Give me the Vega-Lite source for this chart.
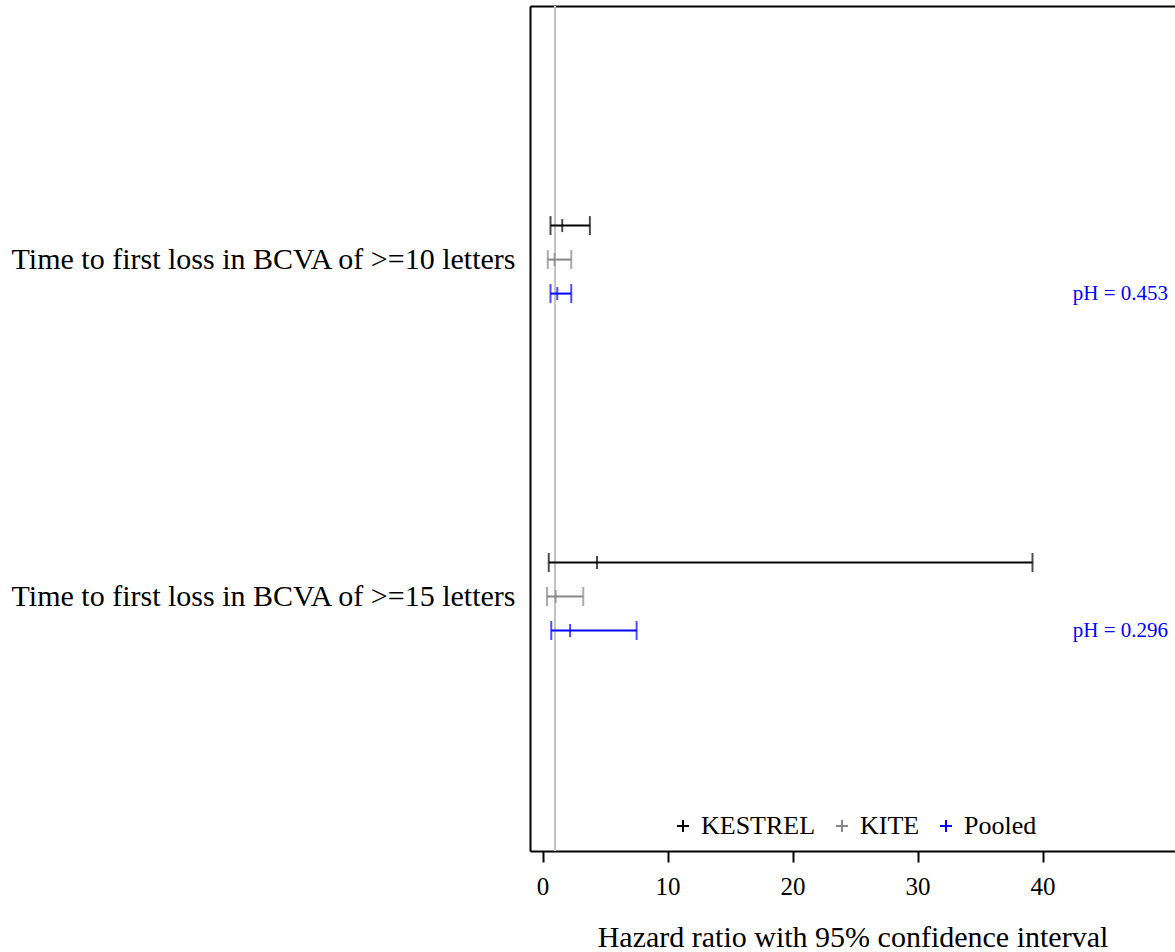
{
  "$schema": "https://vega.github.io/schema/vega-lite/v6.json",
  "width": 645,
  "height": 845,
  "autosize": "none",
  "padding": {"left": 530, "top": 6, "right": 0, "bottom": 101},
  "background": "white",
  "config": {
    "view": {"stroke": null},
    "font": "Liberation Serif",
    "axis": {"labelFont": "Liberation Serif", "titleFont": "Liberation Serif", "grid": false},
    "legend": {"labelFont": "Liberation Serif", "titleFont": "Liberation Serif"}
  },
  "datasets": {
    "hr": [
      {"outcome": "Time to first loss in BCVA of >=10 letters", "study": "KESTREL", "lo": 0.64, "est": 1.58, "hi": 3.79},
      {"outcome": "Time to first loss in BCVA of >=10 letters", "study": "KITE", "lo": 0.42, "est": 0.96, "hi": 2.30},
      {"outcome": "Time to first loss in BCVA of >=10 letters", "study": "Pooled", "lo": 0.64, "est": 1.18, "hi": 2.30},
      {"outcome": "Time to first loss in BCVA of >=15 letters", "study": "KESTREL", "lo": 0.50, "est": 4.36, "hi": 39.2},
      {"outcome": "Time to first loss in BCVA of >=15 letters", "study": "KITE", "lo": 0.36, "est": 1.06, "hi": 3.26},
      {"outcome": "Time to first loss in BCVA of >=15 letters", "study": "Pooled", "lo": 0.70, "est": 2.21, "hi": 7.53}
    ],
    "ph": [
      {"outcome": "Time to first loss in BCVA of >=10 letters", "study": "Pooled", "label": "pH = 0.453"},
      {"outcome": "Time to first loss in BCVA of >=15 letters", "study": "Pooled", "label": "pH = 0.296"}
    ],
    "ref": [{"hr": 1}]
  },
  "layer": [
    {
      "data": {"name": "ref"},
      "mark": {"type": "rule", "color": "#c4c4c4", "strokeWidth": 2},
      "encoding": {
        "x": {
          "field": "hr", "type": "quantitative",
          "scale": {"domain": [-1, 50.6], "nice": false, "zero": false},
          "axis": {"orient": "top", "labels": false, "ticks": false, "title": null, "domainColor": "black", "domainWidth": 2}
        }
      }
    },
    {
      "data": {"name": "hr"},
      "mark": {"type": "rule", "strokeWidth": 2},
      "encoding": {
        "x": {
          "field": "lo", "type": "quantitative",
          "scale": {"domain": [-1, 50.6], "nice": false, "zero": false},
          "axis": {
            "orient": "bottom", "values": [0, 10, 20, 30, 40],
            "title": "Hazard ratio with 95% confidence interval",
            "titleFontSize": 30, "titleFontWeight": "normal", "titleColor": "black", "titlePadding": 23,
            "labelFontSize": 25, "labelColor": "black", "labelPadding": 12,
            "tickSize": 11, "tickWidth": 2, "tickColor": "black",
            "domainColor": "black", "domainWidth": 2
          }
        },
        "x2": {"field": "hi"},
        "y": {
          "field": "outcome", "type": "nominal", "sort": null,
          "scale": {"type": "band", "paddingInner": 0, "paddingOuter": 0.254},
          "axis": {
            "title": null, "ticks": false, "labelFontSize": 30, "labelColor": "black",
            "labelPadding": 15, "labelLimit": 0, "domainColor": "black", "domainWidth": 2
          }
        },
        "yOffset": {
          "field": "study", "type": "nominal",
          "scale": {"type": "point", "domain": ["KESTREL", "KITE", "Pooled"], "range": [134, 202], "padding": 0}
        },
        "color": {
          "field": "study", "type": "nominal",
          "scale": {"domain": ["KESTREL", "KITE", "Pooled"], "range": ["#000000", "#888888", "#0000ff"]},
          "legend": {
            "orient": "none", "legendX": 140, "legendY": 807, "direction": "horizontal",
            "title": null, "labelFontSize": 26, "labelColor": "black",
            "symbolType": "M-1,0H1M0,-1V1", "symbolSize": 144, "symbolStrokeWidth": 2, "symbolOpacity": 1,
            "labelOffset": 5, "columnPadding": 13,
            "encode": {
              "symbols": {"update": {"strokeWidth": {"value": 2}, "opacity": {"value": 1}}}
            }
          }
        }
      }
    },
    {
      "data": {"name": "hr"},
      "mark": {"type": "tick", "orient": "vertical", "size": 19, "thickness": 2},
      "encoding": {
        "x": {"field": "lo", "type": "quantitative", "axis": null},
        "y": {"field": "outcome", "type": "nominal", "sort": null},
        "yOffset": {"field": "study", "type": "nominal"},
        "color": {"field": "study", "type": "nominal"}
      }
    },
    {
      "data": {"name": "hr"},
      "mark": {"type": "tick", "orient": "vertical", "size": 19, "thickness": 2},
      "encoding": {
        "x": {"field": "hi", "type": "quantitative", "axis": null},
        "y": {"field": "outcome", "type": "nominal", "sort": null},
        "yOffset": {"field": "study", "type": "nominal"},
        "color": {"field": "study", "type": "nominal"}
      }
    },
    {
      "data": {"name": "hr"},
      "mark": {"type": "tick", "orient": "vertical", "size": 13, "thickness": 2},
      "encoding": {
        "x": {"field": "est", "type": "quantitative", "axis": null},
        "y": {"field": "outcome", "type": "nominal", "sort": null},
        "yOffset": {"field": "study", "type": "nominal"},
        "color": {"field": "study", "type": "nominal"}
      }
    },
    {
      "data": {"name": "ph"},
      "mark": {"type": "text", "align": "right", "baseline": "middle", "dx": -7, "fontSize": 21, "color": "#0000ff", "font": "Liberation Serif"},
      "encoding": {
        "x": {"value": "width"},
        "y": {"field": "outcome", "type": "nominal", "sort": null},
        "yOffset": {"field": "study", "type": "nominal"},
        "text": {"field": "label"}
      }
    }
  ],
  "resolve": {"axis": {"x": "independent"}}
}
